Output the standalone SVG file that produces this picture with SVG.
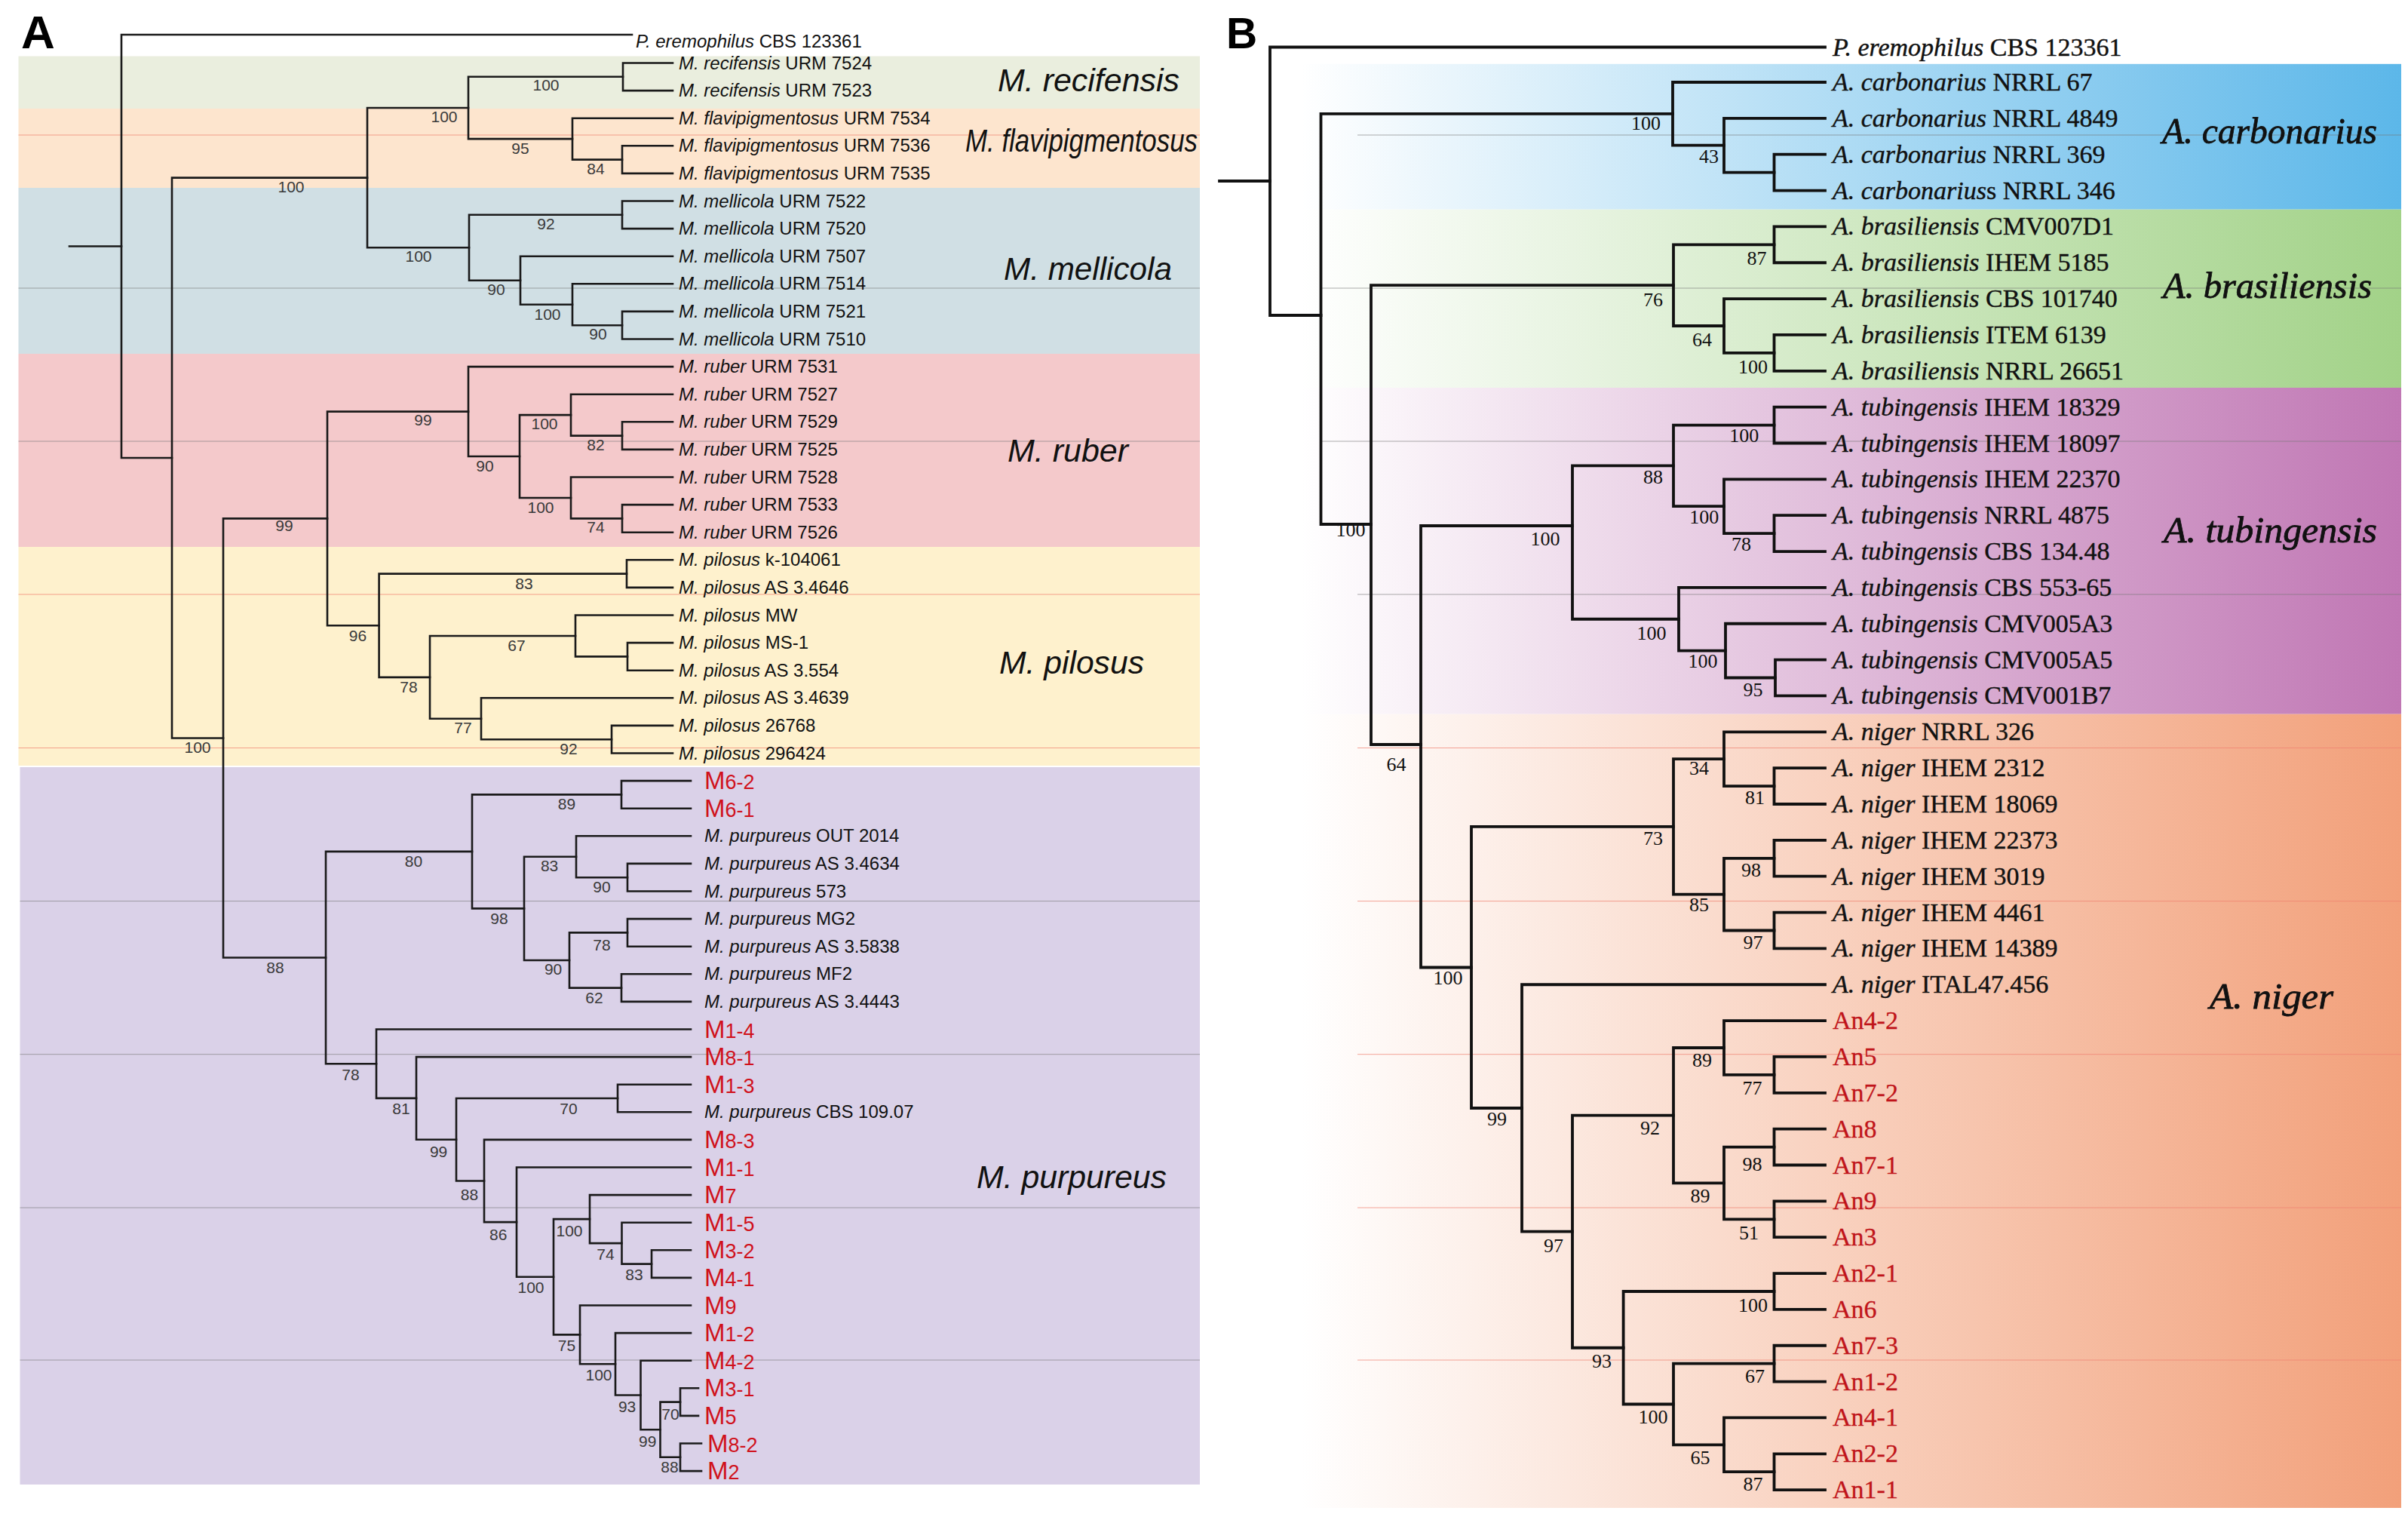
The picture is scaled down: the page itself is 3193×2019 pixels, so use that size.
<svg xmlns="http://www.w3.org/2000/svg" width="3193" height="2019" viewBox="0 0 3193 2019">
<style>
.pl{font-family:"Liberation Sans",Arial,sans-serif;font-weight:bold;fill:#000}
.al{font-family:"Liberation Sans",Arial,sans-serif;font-size:24px;fill:#111}
.it{font-style:italic}
.ar{font-family:"Liberation Sans",Arial,sans-serif;font-size:33px;fill:#D0111B}
.ar .s{font-size:27px}
.ab{font-family:"Liberation Sans",Arial,sans-serif;font-size:21px;fill:#3a3a3a;text-anchor:middle}
.ac{font-family:"Liberation Sans",Arial,sans-serif;font-style:italic;font-size:43px;fill:#111}
.bl{font-family:"Liberation Serif","Times New Roman",serif;font-size:34px;fill:#111;stroke:#111;stroke-width:0.4}
.br{font-family:"Liberation Serif","Times New Roman",serif;font-size:34px;fill:#C0141A;stroke:#C0141A;stroke-width:0.3}
.bb{font-family:"Liberation Serif","Times New Roman",serif;font-size:26px;fill:#111;text-anchor:middle}
.bc{font-family:"Liberation Serif","Times New Roman",serif;font-style:italic;font-size:49px;fill:#111;stroke:#111;stroke-width:0.8}
.ta{fill:none;stroke:#1a1a1a;stroke-width:2.6;stroke-linecap:square}
.tb{fill:none;stroke:#111;stroke-width:3.8;stroke-linecap:square}
.sg{stroke:#777;stroke-width:1;opacity:0.6}
.sr{stroke:#F08070;stroke-width:1;opacity:0.7}
</style>
<defs>
<linearGradient id="gC" gradientUnits="userSpaceOnUse" x1="1725" y1="0" x2="3184" y2="0"><stop offset="0" stop-color="#ffffff"/><stop offset="1" stop-color="#5CB7E9"/></linearGradient>
<linearGradient id="gB" gradientUnits="userSpaceOnUse" x1="1725" y1="0" x2="3184" y2="0"><stop offset="0" stop-color="#ffffff"/><stop offset="1" stop-color="#A2D288"/></linearGradient>
<linearGradient id="gT" gradientUnits="userSpaceOnUse" x1="1725" y1="0" x2="3184" y2="0"><stop offset="0" stop-color="#ffffff"/><stop offset="1" stop-color="#C077B4"/></linearGradient>
<linearGradient id="gN" gradientUnits="userSpaceOnUse" x1="1725" y1="0" x2="3184" y2="0"><stop offset="0" stop-color="#ffffff"/><stop offset="1" stop-color="#F2A07A"/></linearGradient>
</defs>
<rect x="0" y="0" width="3193" height="2019" fill="#ffffff"/>
<!-- Panel A bands -->
<g id="bandsA">
<rect x="24.5" y="74.5" width="1566.5" height="69.5" fill="#EAEEDE"/>
<rect x="24.5" y="144" width="1566.5" height="105" fill="#FDE5CE"/>
<rect x="24.5" y="249" width="1566.5" height="220" fill="#D0DFE4"/>
<rect x="24.5" y="469" width="1566.5" height="256" fill="#F4C9CB"/>
<rect x="24.5" y="725" width="1566.5" height="290" fill="#FEF1CD"/>
<rect x="26.5" y="1017" width="1564.5" height="951" fill="#DAD1E8"/>
<line class="sr" x1="24.5" y1="179" x2="1591" y2="179"/>
<line class="sg" x1="24.5" y1="382" x2="1591" y2="382"/>
<line class="sg" x1="24.5" y1="585" x2="1591" y2="585"/>
<line class="sr" x1="24.5" y1="788" x2="1591" y2="788"/>
<line class="sr" x1="24.5" y1="991.5" x2="1591" y2="991.5"/>
<line class="sg" x1="26.5" y1="1194.6" x2="1591" y2="1194.6"/>
<line class="sg" x1="26.5" y1="1397.7" x2="1591" y2="1397.7"/>
<line class="sg" x1="26.5" y1="1601" x2="1591" y2="1601"/>
<line class="sg" x1="26.5" y1="1803" x2="1591" y2="1803"/>
</g>
<!-- Panel B bands -->
<g id="bandsB">
<rect x="1725" y="84.8" width="1459" height="192.9" fill="url(#gC)"/>
<rect x="1725" y="277.7" width="1459" height="236.3" fill="url(#gB)"/>
<rect x="1725" y="514" width="1459" height="432.7" fill="url(#gT)"/>
<rect x="1725" y="946.7" width="1459" height="1052.3" fill="url(#gN)"/>
<line class="sg" x1="1800" y1="179" x2="3184" y2="179"/>
<line class="sg" x1="1750" y1="382" x2="3184" y2="382"/>
<line class="sg" x1="1750" y1="585" x2="3184" y2="585"/>
<line class="sg" x1="1800" y1="788" x2="3184" y2="788"/>
<line class="sr" x1="1800" y1="991.5" x2="3184" y2="991.5"/>
<line class="sr" x1="1800" y1="1194.6" x2="3184" y2="1194.6"/>
<line class="sr" x1="1800" y1="1397.7" x2="3184" y2="1397.7"/>
<line class="sr" x1="1800" y1="1601" x2="3184" y2="1601"/>
<line class="sr" x1="1800" y1="1803" x2="3184" y2="1803"/>
</g>
<text class="pl" x="28" y="64" font-size="62">A</text>
<text class="pl" x="1626" y="64" font-size="57">B</text>
<!-- Connectors -->
<g id="connectors">
<g id="treeA" class="ta">
<path d="M92 326.5 H161"/>
<path d="M838 46 H161 V607 H228"/>
<path d="M487 235.6 H228 V978.5 H296"/>
<path d="M621 143 H487 V328.3 H622"/>
<path d="M826 101.8 H621 V184.15 H759"/>
<path d="M892 83.5 H826 V120.1 H892"/>
<path d="M892 156.7 H759 V211.6 H825"/>
<path d="M892 193.3 H825 V229.9 H892"/>
<path d="M825 284.8 H622 V371.7 H690"/>
<path d="M892 266.5 H825 V303.1 H892"/>
<path d="M892 339.7 H690 V403.75 H759"/>
<path d="M892 376.3 H759 V431.2 H825"/>
<path d="M892 412.9 H825 V449.5 H892"/>
<path d="M434 687.4 H296 V1269.5 H432"/>
<path d="M621 545.6 H434 V829.2 H502.6"/>
<path d="M892 486.1 H621 V605 H689"/>
<path d="M757 550.15 H689 V659.95 H757"/>
<path d="M892 522.7 H757 V577.6 H825"/>
<path d="M892 559.3 H825 V595.9 H892"/>
<path d="M892 632.5 H757 V687.4 H825"/>
<path d="M892 669.1 H825 V705.7 H892"/>
<path d="M831 760.6 H502.6 V897.85 H570"/>
<path d="M892 742.3 H831 V778.9 H892"/>
<path d="M763 842.95 H570 V952.75 H638"/>
<path d="M892 815.5 H763 V870.4 H832"/>
<path d="M892 852.1 H832 V888.7 H892"/>
<path d="M892 925.3 H638 V980.2 H811"/>
<path d="M892 961.9 H811 V998.5 H892"/>
<path d="M626 1128.9 H432 V1410.2 H499"/>
<path d="M824 1053.4 H626 V1204.4 H695"/>
<path d="M916 1035.1 H824 V1071.7 H916"/>
<path d="M764 1135.75 H695 V1273 H755"/>
<path d="M916 1108.3 H764 V1163.2 H832"/>
<path d="M916 1144.9 H832 V1181.5 H916"/>
<path d="M832 1236.4 H755 V1309.6 H824"/>
<path d="M916 1218.1 H832 V1254.7 H916"/>
<path d="M916 1291.3 H824 V1327.9 H916"/>
<path d="M916 1364.5 H499 V1455.9 H552"/>
<path d="M916 1401.1 H552 V1510.75 H605"/>
<path d="M819 1456 H605 V1565.5 H642"/>
<path d="M916 1437.7 H819 V1474.3 H916"/>
<path d="M916 1510.9 H642 V1620.1 H685"/>
<path d="M916 1547.5 H685 V1692.75 H734"/>
<path d="M782 1616.1 H734 V1769.4 H769"/>
<path d="M916 1584.1 H782 V1648.15 H824.5"/>
<path d="M916 1620.7 H824.5 V1675.6 H864"/>
<path d="M916 1657.3 H864 V1693.9 H916"/>
<path d="M916 1730.5 H769 V1808.3 H816"/>
<path d="M916 1767.1 H816 V1849.45 H849.5"/>
<path d="M916 1803.7 H849.5 V1895.2 H875.5"/>
<path d="M902 1858.6 H875.5 V1931.8 H902"/>
<path d="M926 1840.3 H902 V1876.9 H926"/>
<path d="M930 1913.5 H902 V1950.1 H930"/>
</g>
<g id="treeB" class="tb">
<path d="M1617 240 H1684"/>
<path d="M2420 62.5 H1684 V418 H1751.5"/>
<path d="M2218 150.9 H1751.5 V695 H1818"/>
<path d="M2420 109 H2218 V192.7 H2286"/>
<path d="M2420 156.85 H2286 V228.6 H2352.5"/>
<path d="M2420 204.7 H2352.5 V252.55 H2420"/>
<path d="M2219 378.15 H1818 V987 H1884"/>
<path d="M2352.5 324.3 H2219 V432 H2286"/>
<path d="M2420 300.4 H2352.5 V348.25 H2420"/>
<path d="M2420 396.1 H2286 V467.9 H2352.5"/>
<path d="M2420 443.95 H2352.5 V491.8 H2420"/>
<path d="M2085 697 H1884 V1282.5 H1951"/>
<path d="M2219 617.4 H2085 V820.75 H2226"/>
<path d="M2352.5 563.6 H2219 V671.2 H2286"/>
<path d="M2420 539.65 H2352.5 V587.5 H2420"/>
<path d="M2420 635.35 H2286 V707.1 H2352.5"/>
<path d="M2420 683.2 H2352.5 V731.05 H2420"/>
<path d="M2420 778.9 H2226 V862.6 H2288"/>
<path d="M2420 826.75 H2288 V898.5 H2354"/>
<path d="M2420 874.6 H2354 V922.45 H2420"/>
<path d="M2219 1095.9 H1951 V1469 H2018"/>
<path d="M2286 1006.2 H2219 V1185.6 H2286"/>
<path d="M2420 970.3 H2286 V1042.1 H2352.5"/>
<path d="M2420 1018.15 H2352.5 V1066 H2420"/>
<path d="M2352.5 1137.8 H2286 V1233.5 H2352.5"/>
<path d="M2420 1113.85 H2352.5 V1161.7 H2420"/>
<path d="M2420 1209.55 H2352.5 V1257.4 H2420"/>
<path d="M2420 1305.25 H2018 V1632.7 H2085"/>
<path d="M2219 1478.7 H2085 V1786.75 H2152.6"/>
<path d="M2286 1389 H2219 V1568.4 H2286"/>
<path d="M2420 1353.1 H2286 V1424.9 H2352.5"/>
<path d="M2420 1400.95 H2352.5 V1448.8 H2420"/>
<path d="M2352.5 1520.6 H2286 V1616.3 H2352.5"/>
<path d="M2420 1496.65 H2352.5 V1544.5 H2420"/>
<path d="M2420 1592.35 H2352.5 V1640.2 H2420"/>
<path d="M2352.5 1712 H2152.6 V1861.5 H2219"/>
<path d="M2420 1688.05 H2352.5 V1735.9 H2420"/>
<path d="M2352.5 1807.7 H2219 V1915.3 H2286"/>
<path d="M2420 1783.75 H2352.5 V1831.6 H2420"/>
<path d="M2420 1879.45 H2286 V1951.2 H2352.5"/>
<path d="M2420 1927.3 H2352.5 V1975.15 H2420"/>
</g>
</g>
<!-- Bootstrap values A -->
<g id="bootA" class="ab">
<text x="386" y="254.5">100</text><text x="589" y="161.5">100</text><text x="724" y="120">100</text><text x="690" y="203.5">95</text><text x="790" y="230.5">84</text>
<text x="555" y="346.5">100</text><text x="724" y="303.5">92</text><text x="658" y="390.5">90</text><text x="726" y="423.5">100</text><text x="793" y="449.5">90</text>
<text x="377" y="703.5">99</text><text x="561" y="563.5">99</text><text x="643" y="624.5">90</text><text x="722" y="568.5">100</text><text x="790" y="596.5">82</text>
<text x="717" y="679.5">100</text><text x="790" y="705.5">74</text><text x="474.5" y="849.5">96</text><text x="695" y="780.5">83</text><text x="542" y="918">78</text>
<text x="685" y="863">67</text><text x="614" y="972">77</text><text x="754" y="999.5">92</text><text x="262" y="997.5">100</text><text x="365" y="1290">88</text>
<text x="548.5" y="1149">80</text><text x="751.5" y="1073">89</text><text x="662" y="1224.5">98</text><text x="728.6" y="1155.3">83</text><text x="798" y="1182.5">90</text>
<text x="733.6" y="1292">90</text><text x="798" y="1259.5">78</text><text x="788" y="1329.5">62</text><text x="465" y="1431.5">78</text><text x="532" y="1477">81</text>
<text x="581.6" y="1533.5">99</text><text x="754" y="1477">70</text><text x="622.4" y="1590.5">88</text><text x="660.7" y="1643.5">86</text><text x="704" y="1713.5">100</text>
<text x="755" y="1638.5">100</text><text x="803" y="1669.5">74</text><text x="841" y="1696.5">83</text><text x="751.5" y="1791">75</text><text x="794" y="1829.5">100</text>
<text x="831.6" y="1871.5">93</text><text x="858.7" y="1918">99</text><text x="889" y="1882">70</text><text x="888" y="1951.5">88</text>
</g>
<!-- Bootstrap values B -->
<g id="bootB" class="bb">
<text x="2182.5" y="172">100</text><text x="2266" y="215.7">43</text><text x="1791" y="711">100</text><text x="2192" y="406">76</text><text x="2329.6" y="350.5">87</text>
<text x="2257" y="459">64</text><text x="2324.5" y="494.7">100</text><text x="2049" y="723">100</text><text x="2192" y="640.7">88</text><text x="2312.8" y="585.8">100</text>
<text x="2259.7" y="694">100</text><text x="2309" y="729.7">78</text><text x="2190" y="848">100</text><text x="2258" y="885">100</text><text x="2324.5" y="922.5">95</text>
<text x="1851.5" y="1022">64</text><text x="1920" y="1305">100</text><text x="2192" y="1120">73</text><text x="2253" y="1027">34</text><text x="2327" y="1065.5">81</text>
<text x="2253" y="1207.8">85</text><text x="2322" y="1161.7">98</text><text x="2324.5" y="1258">97</text><text x="1985" y="1492">99</text><text x="2060" y="1659.7">97</text>
<text x="2188" y="1504">92</text><text x="2257" y="1413.5">89</text><text x="2323.5" y="1451">77</text><text x="2254.6" y="1594">89</text><text x="2323.5" y="1552">98</text>
<text x="2319" y="1642.8">51</text><text x="2124" y="1813">93</text><text x="2324.5" y="1738.6">100</text><text x="2192" y="1886.7">100</text><text x="2327" y="1832.6">67</text>
<text x="2254.6" y="1940.8">65</text><text x="2324.5" y="1976">87</text>
</g>
<!-- Leaf labels A -->
<g id="leavesA">
<g id="a-pere"><text class="al" x="843" y="63" font-size="27"><tspan class="it">P. eremophilus</tspan> CBS 123361</text></g>
<g id="a-rec7524"><text class="al" x="900" y="91.5"><tspan class="it">M. recifensis</tspan> URM 7524</text></g>
<g id="a-rec7523"><text class="al" x="900" y="128.1"><tspan class="it">M. recifensis</tspan> URM 7523</text></g>
<g id="a-fla7534"><text class="al" x="900" y="164.7"><tspan class="it">M. flavipigmentosus</tspan> URM 7534</text></g>
<g id="a-fla7536"><text class="al" x="900" y="201.3"><tspan class="it">M. flavipigmentosus</tspan> URM 7536</text></g>
<g id="a-fla7535"><text class="al" x="900" y="237.9"><tspan class="it">M. flavipigmentosus</tspan> URM 7535</text></g>
<g id="a-mel7522"><text class="al" x="900" y="274.5"><tspan class="it">M. mellicola</tspan> URM 7522</text></g>
<g id="a-mel7520"><text class="al" x="900" y="311.1"><tspan class="it">M. mellicola</tspan> URM 7520</text></g>
<g id="a-mel7507"><text class="al" x="900" y="347.7"><tspan class="it">M. mellicola</tspan> URM 7507</text></g>
<g id="a-mel7514"><text class="al" x="900" y="384.3"><tspan class="it">M. mellicola</tspan> URM 7514</text></g>
<g id="a-mel7521"><text class="al" x="900" y="420.9"><tspan class="it">M. mellicola</tspan> URM 7521</text></g>
<g id="a-mel7510"><text class="al" x="900" y="457.5"><tspan class="it">M. mellicola</tspan> URM 7510</text></g>
<g id="a-rub7531"><text class="al" x="900" y="494.1"><tspan class="it">M. ruber</tspan> URM 7531</text></g>
<g id="a-rub7527"><text class="al" x="900" y="530.7"><tspan class="it">M. ruber</tspan> URM 7527</text></g>
<g id="a-rub7529"><text class="al" x="900" y="567.3"><tspan class="it">M. ruber</tspan> URM 7529</text></g>
<g id="a-rub7525"><text class="al" x="900" y="603.9"><tspan class="it">M. ruber</tspan> URM 7525</text></g>
<g id="a-rub7528"><text class="al" x="900" y="640.5"><tspan class="it">M. ruber</tspan> URM 7528</text></g>
<g id="a-rub7533"><text class="al" x="900" y="677.1"><tspan class="it">M. ruber</tspan> URM 7533</text></g>
<g id="a-rub7526"><text class="al" x="900" y="713.7"><tspan class="it">M. ruber</tspan> URM 7526</text></g>
<g id="a-pil1"><text class="al" x="900" y="750.3"><tspan class="it">M. pilosus</tspan> k-104061</text></g>
<g id="a-pil2"><text class="al" x="900" y="786.9"><tspan class="it">M. pilosus</tspan> AS 3.4646</text></g>
<g id="a-pil3"><text class="al" x="900" y="823.5"><tspan class="it">M. pilosus</tspan> MW</text></g>
<g id="a-pil4"><text class="al" x="900" y="860.1"><tspan class="it">M. pilosus</tspan> MS-1</text></g>
<g id="a-pil5"><text class="al" x="900" y="896.7"><tspan class="it">M. pilosus</tspan> AS 3.554</text></g>
<g id="a-pil6"><text class="al" x="900" y="933.3"><tspan class="it">M. pilosus</tspan> AS 3.4639</text></g>
<g id="a-pil7"><text class="al" x="900" y="969.9"><tspan class="it">M. pilosus</tspan> 26768</text></g>
<g id="a-pil8"><text class="al" x="900" y="1006.5"><tspan class="it">M. pilosus</tspan> 296424</text></g>
<g id="a-M6-2"><text class="ar" x="934" y="1046.1">M<tspan class="s">6-2</tspan></text></g>
<g id="a-M6-1"><text class="ar" x="934" y="1082.7">M<tspan class="s">6-1</tspan></text></g>
<g id="a-pur1"><text class="al" x="934" y="1116.3"><tspan class="it">M. purpureus</tspan> OUT 2014</text></g>
<g id="a-pur2"><text class="al" x="934" y="1152.9"><tspan class="it">M. purpureus</tspan> AS 3.4634</text></g>
<g id="a-pur3"><text class="al" x="934" y="1189.5"><tspan class="it">M. purpureus</tspan> 573</text></g>
<g id="a-pur4"><text class="al" x="934" y="1226.1"><tspan class="it">M. purpureus</tspan> MG2</text></g>
<g id="a-pur5"><text class="al" x="934" y="1262.7"><tspan class="it">M. purpureus</tspan> AS 3.5838</text></g>
<g id="a-pur6"><text class="al" x="934" y="1299.3"><tspan class="it">M. purpureus</tspan> MF2</text></g>
<g id="a-pur7"><text class="al" x="934" y="1335.9"><tspan class="it">M. purpureus</tspan> AS 3.4443</text></g>
<g id="a-M1-4"><text class="ar" x="934" y="1375.5">M<tspan class="s">1-4</tspan></text></g>
<g id="a-M8-1"><text class="ar" x="934" y="1412.1">M<tspan class="s">8-1</tspan></text></g>
<g id="a-M1-3"><text class="ar" x="934" y="1448.7">M<tspan class="s">1-3</tspan></text></g>
<g id="a-pur8"><text class="al" x="934" y="1482.3"><tspan class="it">M. purpureus</tspan> CBS 109.07</text></g>
<g id="a-M8-3"><text class="ar" x="934" y="1521.9">M<tspan class="s">8-3</tspan></text></g>
<g id="a-M1-1"><text class="ar" x="934" y="1558.5">M<tspan class="s">1-1</tspan></text></g>
<g id="a-M7"><text class="ar" x="934" y="1595.1">M<tspan class="s">7</tspan></text></g>
<g id="a-M1-5"><text class="ar" x="934" y="1631.7">M<tspan class="s">1-5</tspan></text></g>
<g id="a-M3-2"><text class="ar" x="934" y="1668.3">M<tspan class="s">3-2</tspan></text></g>
<g id="a-M4-1"><text class="ar" x="934" y="1704.9">M<tspan class="s">4-1</tspan></text></g>
<g id="a-M9"><text class="ar" x="934" y="1741.5">M<tspan class="s">9</tspan></text></g>
<g id="a-M1-2"><text class="ar" x="934" y="1778.1">M<tspan class="s">1-2</tspan></text></g>
<g id="a-M4-2"><text class="ar" x="934" y="1814.7">M<tspan class="s">4-2</tspan></text></g>
<g id="a-M3-1"><text class="ar" x="934" y="1851.3">M<tspan class="s">3-1</tspan></text></g>
<g id="a-M5"><text class="ar" x="934" y="1887.9">M<tspan class="s">5</tspan></text></g>
<g id="a-M8-2"><text class="ar" x="938" y="1924.5">M<tspan class="s">8-2</tspan></text></g>
<g id="a-M2"><text class="ar" x="938" y="1961.1">M<tspan class="s">2</tspan></text></g>
</g>
<!-- Clade labels A -->
<g id="cladesA">
<g id="ca-rec"><text class="ac" x="1323" y="120.5" textLength="241" lengthAdjust="spacingAndGlyphs">M. recifensis</text></g>
<g id="ca-fla"><text class="ac" x="1280" y="201" font-size="37" textLength="308" lengthAdjust="spacingAndGlyphs">M. flavipigmentosus</text></g>
<g id="ca-mel"><text class="ac" x="1331" y="370.5" textLength="223" lengthAdjust="spacingAndGlyphs">M. mellicola</text></g>
<g id="ca-rub"><text class="ac" x="1336" y="611.6" textLength="160" lengthAdjust="spacingAndGlyphs">M. ruber</text></g>
<g id="ca-pil"><text class="ac" x="1325" y="893" textLength="192" lengthAdjust="spacingAndGlyphs">M. pilosus</text></g>
<g id="ca-pur"><text class="ac" x="1295" y="1575" textLength="252" lengthAdjust="spacingAndGlyphs">M. purpureus</text></g>
</g>
<!-- Leaf labels B -->
<g id="leavesB">
<g id="b-pere"><text class="bl" x="2430" y="73.5"><tspan class="it">P. eremophilus</tspan> CBS 123361</text></g>
<g id="b-c1"><text class="bl" x="2430" y="120"><tspan class="it">A. carbonarius</tspan> NRRL 67</text></g>
<g id="b-c2"><text class="bl" x="2430" y="167.85"><tspan class="it">A. carbonarius</tspan> NRRL 4849</text></g>
<g id="b-c3"><text class="bl" x="2430" y="215.7"><tspan class="it">A. carbonarius</tspan> NRRL 369</text></g>
<g id="b-c4"><text class="bl" x="2430" y="263.55"><tspan class="it">A. carbonarius</tspan>s NRRL 346</text></g>
<g id="b-b1"><text class="bl" x="2430" y="311.4"><tspan class="it">A. brasiliensis</tspan> CMV007D1</text></g>
<g id="b-b2"><text class="bl" x="2430" y="359.25"><tspan class="it">A. brasiliensis</tspan> IHEM 5185</text></g>
<g id="b-b3"><text class="bl" x="2430" y="407.1"><tspan class="it">A. brasiliensis</tspan> CBS 101740</text></g>
<g id="b-b4"><text class="bl" x="2430" y="454.95"><tspan class="it">A. brasiliensis</tspan> ITEM 6139</text></g>
<g id="b-b5"><text class="bl" x="2430" y="502.8"><tspan class="it">A. brasiliensis</tspan> NRRL 26651</text></g>
<g id="b-t1"><text class="bl" x="2430" y="550.65"><tspan class="it">A. tubingensis</tspan> IHEM 18329</text></g>
<g id="b-t2"><text class="bl" x="2430" y="598.5"><tspan class="it">A. tubingensis</tspan> IHEM 18097</text></g>
<g id="b-t3"><text class="bl" x="2430" y="646.35"><tspan class="it">A. tubingensis</tspan> IHEM 22370</text></g>
<g id="b-t4"><text class="bl" x="2430" y="694.2"><tspan class="it">A. tubingensis</tspan> NRRL 4875</text></g>
<g id="b-t5"><text class="bl" x="2430" y="742.05"><tspan class="it">A. tubingensis</tspan> CBS 134.48</text></g>
<g id="b-t6"><text class="bl" x="2430" y="789.9"><tspan class="it">A. tubingensis</tspan> CBS 553-65</text></g>
<g id="b-t7"><text class="bl" x="2430" y="837.75"><tspan class="it">A. tubingensis</tspan> CMV005A3</text></g>
<g id="b-t8"><text class="bl" x="2430" y="885.6"><tspan class="it">A. tubingensis</tspan> CMV005A5</text></g>
<g id="b-t9"><text class="bl" x="2430" y="933.45"><tspan class="it">A. tubingensis</tspan> CMV001B7</text></g>
<g id="b-n1"><text class="bl" x="2430" y="981.3"><tspan class="it">A. niger</tspan> NRRL 326</text></g>
<g id="b-n2"><text class="bl" x="2430" y="1029.15"><tspan class="it">A. niger</tspan> IHEM 2312</text></g>
<g id="b-n3"><text class="bl" x="2430" y="1077"><tspan class="it">A. niger</tspan> IHEM 18069</text></g>
<g id="b-n4"><text class="bl" x="2430" y="1124.85"><tspan class="it">A. niger</tspan> IHEM 22373</text></g>
<g id="b-n5"><text class="bl" x="2430" y="1172.7"><tspan class="it">A. niger</tspan> IHEM 3019</text></g>
<g id="b-n6"><text class="bl" x="2430" y="1220.55"><tspan class="it">A. niger</tspan> IHEM 4461</text></g>
<g id="b-n7"><text class="bl" x="2430" y="1268.4"><tspan class="it">A. niger</tspan> IHEM 14389</text></g>
<g id="b-n8"><text class="bl" x="2430" y="1316.25"><tspan class="it">A. niger</tspan> ITAL47.456</text></g>
<g id="b-An4-2"><text class="br" x="2430" y="1364.1">An4-2</text></g>
<g id="b-An5"><text class="br" x="2430" y="1411.95">An5</text></g>
<g id="b-An7-2"><text class="br" x="2430" y="1459.8">An7-2</text></g>
<g id="b-An8"><text class="br" x="2430" y="1507.65">An8</text></g>
<g id="b-An7-1"><text class="br" x="2430" y="1555.5">An7-1</text></g>
<g id="b-An9"><text class="br" x="2430" y="1603.35">An9</text></g>
<g id="b-An3"><text class="br" x="2430" y="1651.2">An3</text></g>
<g id="b-An2-1"><text class="br" x="2430" y="1699.05">An2-1</text></g>
<g id="b-An6"><text class="br" x="2430" y="1746.9">An6</text></g>
<g id="b-An7-3"><text class="br" x="2430" y="1794.75">An7-3</text></g>
<g id="b-An1-2"><text class="br" x="2430" y="1842.6">An1-2</text></g>
<g id="b-An4-1"><text class="br" x="2430" y="1890.45">An4-1</text></g>
<g id="b-An2-2"><text class="br" x="2430" y="1938.3">An2-2</text></g>
<g id="b-An1-1"><text class="br" x="2430" y="1986.15">An1-1</text></g>
</g>
<!-- Clade labels B -->
<g id="cladesB">
<g id="cb-car"><text class="bc" x="2867" y="189.7" textLength="285" lengthAdjust="spacingAndGlyphs">A. carbonarius</text></g>
<g id="cb-bra"><text class="bc" x="2868" y="395" textLength="277" lengthAdjust="spacingAndGlyphs">A. brasiliensis</text></g>
<g id="cb-tub"><text class="bc" x="2869" y="719" textLength="283" lengthAdjust="spacingAndGlyphs">A. tubingensis</text></g>
<g id="cb-nig"><text class="bc" x="2930" y="1336.5" textLength="164" lengthAdjust="spacingAndGlyphs">A. niger</text></g>
</g>
</svg>
